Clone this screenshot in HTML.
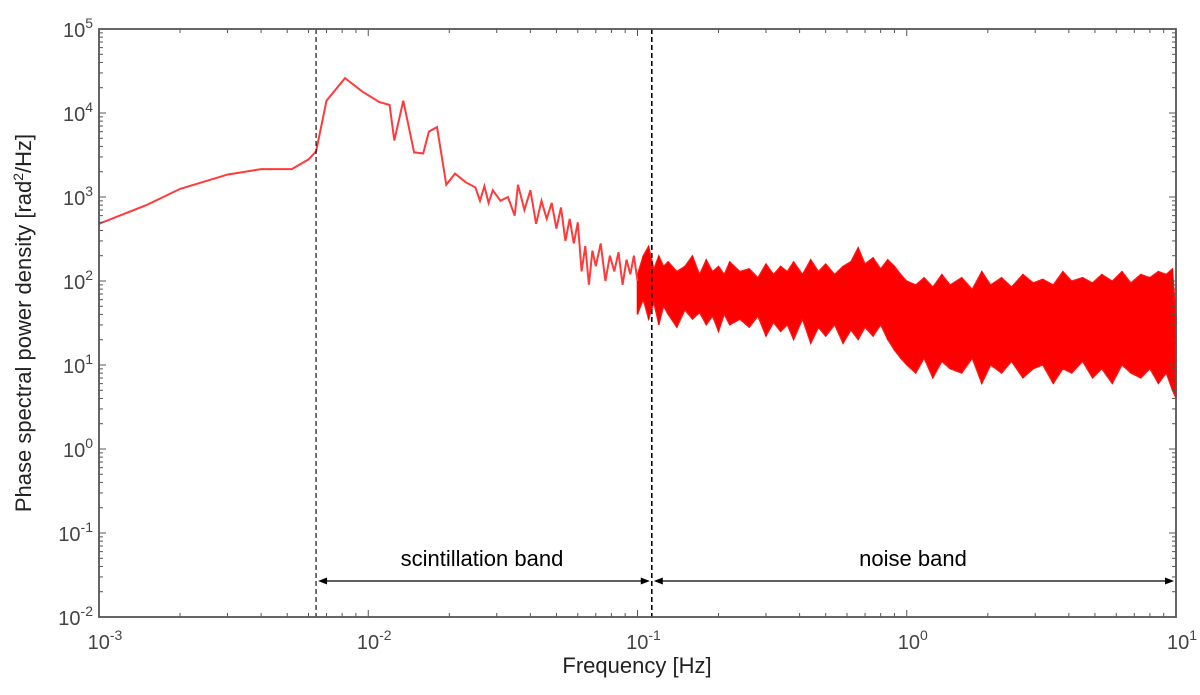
<!DOCTYPE html>
<html><head><meta charset="utf-8"><style>
body{margin:0;background:#fff;width:1200px;height:690px;overflow:hidden}
svg text{font-family:"Liberation Sans",sans-serif}
</style></head><body>
<svg id="chart" width="1200" height="690" xmlns="http://www.w3.org/2000/svg">
<g id="plot"></g>
<g id="axes"></g>
</svg>
<script>
// low-frequency smooth/sparse spectrum (Hz, rad^2/Hz)
const lowFreq = [0.001,0.0015,0.002,0.003,0.004,0.0052,0.006,0.0064,0.0068,0.007,0.0082,0.0095,0.011,0.012,0.0125,0.0135,0.0148,0.016,0.0168,0.018,0.0195,0.021,0.023,0.025,0.026,0.027,0.028,0.029,0.031,0.033,0.035,0.036,0.038,0.040,0.042,0.044,0.046,0.048,0.050,0.052,0.054,0.056,0.058,0.060,0.062,0.064,0.066,0.068,0.070,0.073,0.076,0.079,0.082,0.085,0.088,0.091,0.094,0.097,0.100];
const lowPsd = [480,800,1250,1850,2150,2150,2800,3500,9000,14000,26000,18000,13500,12500,4700,14000,3400,3300,6000,6800,1400,1900,1500,1300,900,1350,850,1200,900,1000,600,1400,700,1200,480,900,550,850,420,750,300,550,280,500,130,260,90,230,150,280,100,200,130,220,90,180,120,200,100];
// noise band envelope
const noiseFreq = [0.1,0.105,0.11,0.115,0.12,0.125,0.13,0.14,0.15,0.16,0.17,0.18,0.19,0.2,0.21,0.22,0.24,0.26,0.28,0.3,0.32,0.34,0.36,0.38,0.41,0.44,0.47,0.5,0.54,0.58,0.62,0.66,0.7,0.75,0.8,0.85,0.9,0.95,1.0,1.08,1.16,1.25,1.35,1.45,1.6,1.75,1.9,2.05,2.25,2.45,2.7,2.95,3.2,3.5,3.8,4.1,4.5,4.9,5.3,5.8,6.3,6.8,7.4,8.0,8.6,9.2,9.7,10];
const noiseHi = [120,200,260,140,200,150,170,130,150,200,120,180,130,150,120,170,130,140,110,160,120,150,130,170,120,180,130,160,120,150,170,250,160,190,140,180,150,120,100,90,110,85,120,90,110,80,130,90,110,85,120,95,105,90,130,100,110,95,120,100,130,95,120,110,130,120,140,40];
const noiseLo = [40,60,35,55,30,50,40,28,45,35,42,30,38,25,40,30,35,28,38,22,32,25,30,20,35,18,28,22,30,18,26,20,28,22,30,20,15,12,10,8,12,7,11,9,8,12,6,10,8,11,7,9,10,6,9,8,11,7,9,6,10,8,7,9,6,8,5,4];
const xTicks = [-3,-2,-1,0,1];
const yTicks = [-2,-1,0,1,2,3,4,5];
const vLines = [0.0064,0.113];

const NS="http://www.w3.org/2000/svg";
const L=99,R=1176,T=29,B=617;
const x=f=>L+(Math.log10(f)+3)/4*(R-L);
const y=v=>B-(Math.log10(v)+2)/7*(B-T);
function mk(tag,attrs,parent){const e=document.createElementNS(NS,tag);for(const k in attrs)e.setAttribute(k,attrs[k]);parent.appendChild(e);return e;}
const plot=document.getElementById('plot'), axes=document.getElementById('axes');

// noise band polygon
let pts=noiseFreq.map((f,i)=>x(f)+','+y(noiseHi[i]));
for(let i=noiseFreq.length-1;i>=0;i--)pts.push(x(noiseFreq[i])+','+y(noiseLo[i]));
const band=mk('polygon',{points:pts.join(' '),fill:'#ff0000',stroke:'#ff1a1a','stroke-width':1.2,'stroke-linejoin':'miter'},plot);


// spikes inside band
let zz='';
noiseFreq.forEach((f,i)=>{zz+='M'+x(f)+','+y(noiseHi[i])+'L'+x(f)+','+y(noiseLo[i]);});
const zl=mk('path',{d:zz,fill:'none',stroke:'#ff0000','stroke-width':1.5},plot);


// low line
const d=lowFreq.map((f,i)=>(i?'L':'M')+x(f).toFixed(1)+','+y(lowPsd[i]).toFixed(1)).join('');
const ln=mk('path',{d:d,fill:'none',stroke:'#ff3a3a','stroke-width':2},plot);



// dashed band lines
vLines.forEach((f,i)=>{
  const v=mk('line',{x1:x(f),x2:x(f),y1:T,y2:B,stroke:'#000','stroke-width':i?1.6:1.1,'stroke-dasharray':'5,3'},plot);
  
  
});
// arrows
const AY=581;
function arrow(x1,x2,name){
  const g=mk('g',{},plot);
  
  
  mk('line',{x1:x1+6,x2:x2-6,y1:AY,y2:AY,stroke:'#000','stroke-width':1.3},g);
  mk('polygon',{points:`${x1},${AY} ${x1+9},${AY-3.5} ${x1+9},${AY+3.5}`,fill:'#000'},g);
  mk('polygon',{points:`${x2},${AY} ${x2-9},${AY-3.5} ${x2-9},${AY+3.5}`,fill:'#000'},g);
}
arrow(x(vLines[0])+2,x(vLines[1])-2,'scintillation-arrow');
arrow(x(vLines[1])+2,R-2,'noise-arrow');
const t1=mk('text',{x:482,y:566,'font-size':22,'text-anchor':'middle',fill:'#000'},plot);t1.textContent='scintillation band';


const t2=mk('text',{x:913,y:566,'font-size':22,'text-anchor':'middle',fill:'#000'},plot);t2.textContent='noise band';



// frame
const fr=mk('rect',{x:L,y:T,width:R-L,height:B-T,fill:'none',stroke:'#555','stroke-width':1.8},axes);


// minor/major ticks
for(let e=-3;e<1;e++)for(let m=1;m<10;m++){const xx=x(m*Math.pow(10,e));const len=m==1?7:4;
  mk('line',{x1:xx,x2:xx,y1:B,y2:B-len,stroke:'#555'},axes);mk('line',{x1:xx,x2:xx,y1:T,y2:T+len,stroke:'#555'},axes);}
for(let e=-2;e<5;e++)for(let m=1;m<10;m++){const yy=y(m*Math.pow(10,e));const len=m==1?7:4;
  mk('line',{x1:L,x2:L+len,y1:yy,y2:yy,stroke:'#555'},axes);mk('line',{x1:R,x2:R-len,y1:yy,y2:yy,stroke:'#555'},axes);}
function powLabel(px,py,e,anchor,name){
  const t=mk('text',{x:px,y:py,'font-size':20,fill:'#444','text-anchor':anchor},axes);
  
  
  t.innerHTML='10<tspan dy="-9" font-size="14">'+e+'</tspan>';
}
xTicks.forEach(e=>powLabel(x(Math.pow(10,e))+6,B+32,e,'middle','x-tick-label'));
yTicks.forEach(e=>powLabel(L-6,y(Math.pow(10,e))+8,e,'end','y-tick-label'));
const xl=mk('text',{x:637,y:673,'font-size':22,'text-anchor':'middle',fill:'#222'},axes);xl.textContent='Frequency [Hz]';


const yl=mk('text',{x:0,y:0,'font-size':22,'text-anchor':'middle',fill:'#222',transform:'translate(31,323) rotate(-90)'},axes);
yl.innerHTML='Phase spectral power density [rad<tspan dy="-8" font-size="14">2</tspan><tspan dy="8">/Hz]</tspan>';


</script>
</body></html>
